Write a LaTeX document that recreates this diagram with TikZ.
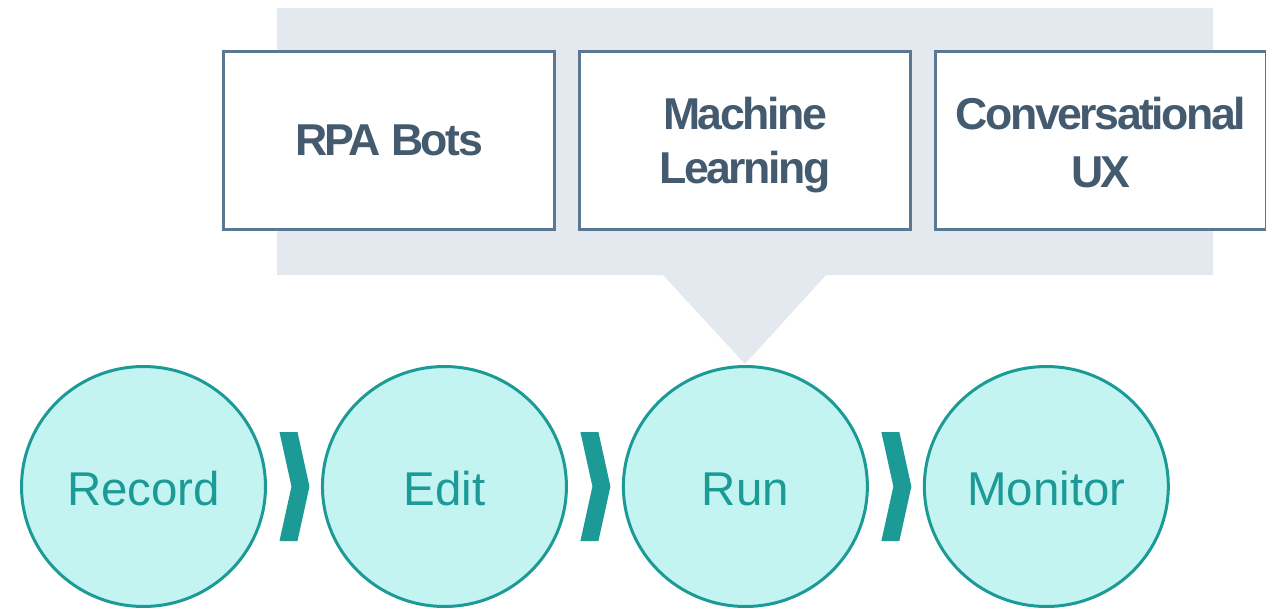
\documentclass[tikz,border=0pt]{standalone}
\usepackage{fontspec}
\setmainfont{Liberation Sans}
\newfontfamily\boxfont[LetterSpace=-5.5]{Liberation Sans}
\usepackage{tikz}
\usetikzlibrary{shapes.geometric,positioning,calc}

\definecolor{panelgray}{HTML}{E4E9F0}
\definecolor{boxline}{HTML}{5A7891}
\definecolor{boxtext}{HTML}{435A6F}
\definecolor{stagefill}{HTML}{C4F4F2}
\definecolor{stageteal}{HTML}{1B9A96}

\tikzset{
    toolbox/.style={draw=boxline, line width=0.06cm, fill=white, minimum width=6.62cm, minimum height=3.56cm, inner sep=0pt, align=center, text=boxtext, font=\boxfont\bfseries\fontsize{25.4}{30.7}\selectfont},
    twoline/.style={text height=54.7pt, text depth=5.3pt},
    stage/.style={ellipse, draw=stageteal, line width=0.06cm, fill=stagefill, minimum width=4.88cm, minimum height=4.8cm, inner sep=0pt, text height=22.3pt, text depth=0.4pt, text=stageteal, font=\fontsize{27}{32}\selectfont}
}

\begin{document}
\begin{tikzpicture}[x=0.02cm, y=-0.02cm]
    \useasboundingbox (0,0) rectangle (1266,611);

    % Grey callout panel
    \fill[panelgray] (277,8) -- (1213,8) -- (1213,275) -- (826,275) -- (745,364) -- (663,275) -- (277,275) -- cycle;

    % Technology boxes
    \node[toolbox] (rpa) at (389,140.5) {RPA Bots};
    \node[toolbox, twoline, right=0.44cm of rpa] (ml) {Machine\\Learning};
    \node[toolbox, twoline, text height=59.25pt, right=0.44cm of ml] (cux) {Conversational\\[0.08cm]UX};

    % Process stages
    \node[stage] (record) at (143.5,486.5) {Record};
    \node[stage, right=1.08cm of record] (edit) {Edit};
    \node[stage, right=1.08cm of edit] (run) {Run};
    \node[stage, right=1.08cm of run] (monitor) {Monitor};

    % Chevrons between stages
    \foreach \a/\b in {record/edit, edit/run, run/monitor}
        \fill[stageteal] ($(\a.east)!0.5!(\b.west)$) ++(-14.5,-54.5) -- ++(18,0) -- ++(12,54.5) -- ++(-12,54.5) -- ++(-18,0) -- ++(12,-54.5) -- cycle;
\end{tikzpicture}
\end{document}
